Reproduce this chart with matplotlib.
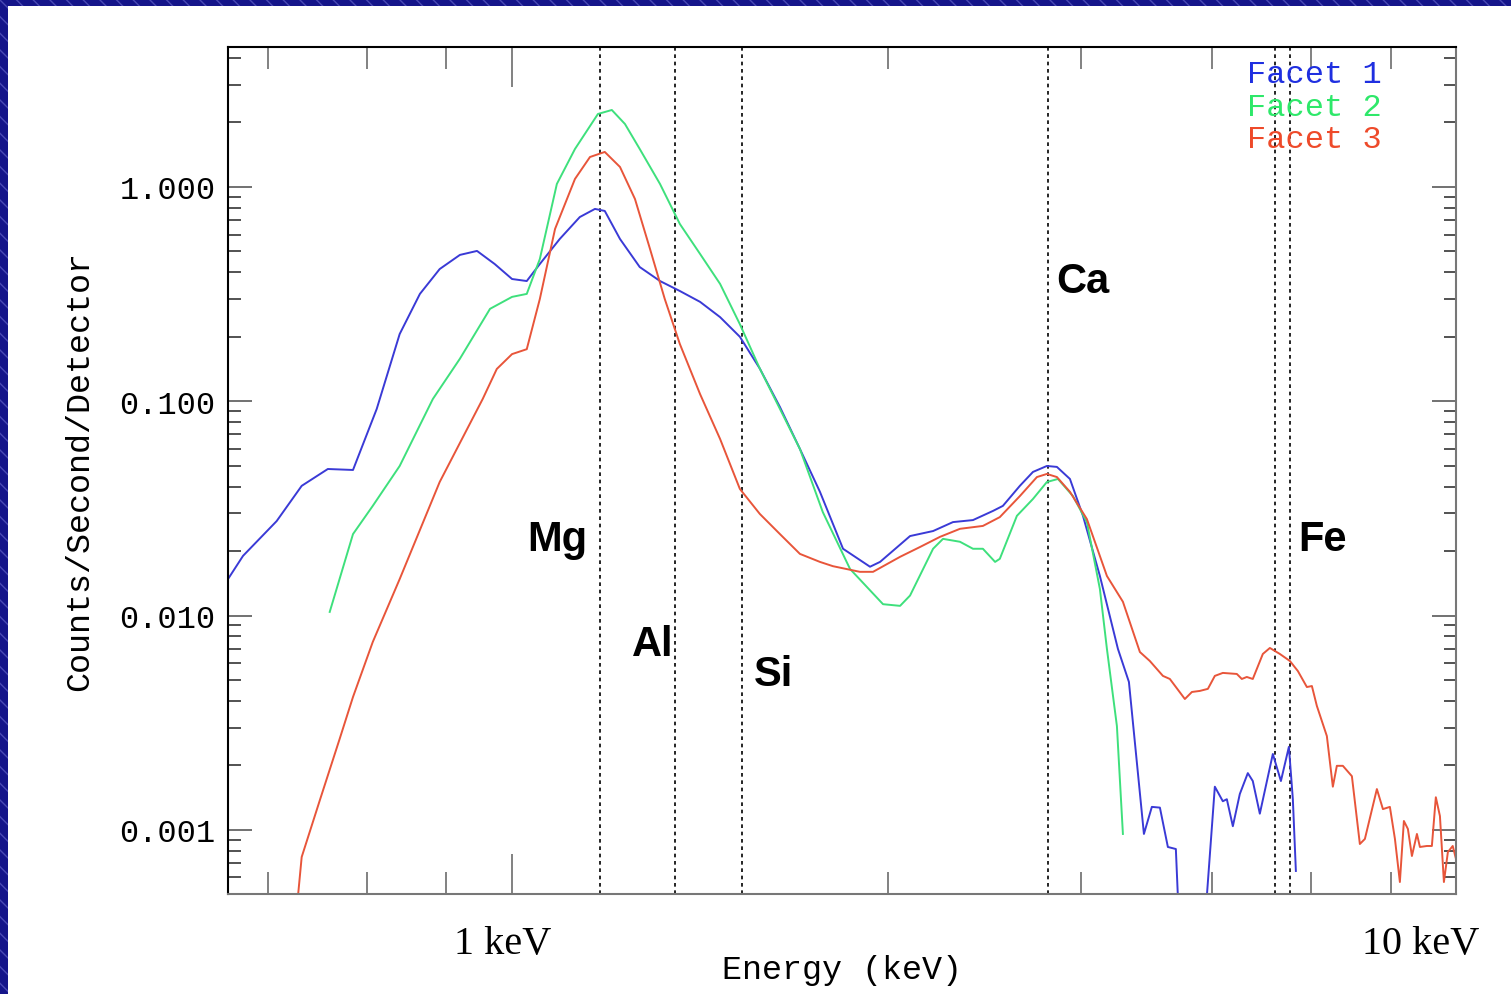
import numpy as np
import matplotlib
matplotlib.use("Agg")
import matplotlib.pyplot as plt
from matplotlib.patches import Rectangle
from matplotlib.ticker import FixedLocator, NullFormatter, FuncFormatter, LogLocator

# energy (keV) / counts per second per detector
f1_energy = [0.510, 0.529, 0.574, 0.610, 0.650, 0.691, 0.732, 0.774, 0.813, 0.853,
             0.896, 0.934, 0.975, 1.017, 1.054, 1.088, 1.142, 1.199, 1.244, 1.274,
             1.322, 1.387, 1.457, 1.529, 1.606, 1.686, 1.769, 1.857, 1.950, 2.047,
             2.149, 2.273, 2.427, 2.487, 2.675, 2.829, 2.969, 3.117, 3.273, 3.352,
             3.493, 3.606, 3.730, 3.822, 3.945, 4.072, 4.243, 4.433, 4.553, 4.722,
             4.814, 4.909, 5.005, 5.103, 5.128, 5.30, 5.45, 5.502, 5.610, 5.720,
             5.776, 5.861, 5.961, 6.078, 6.152, 6.258, 6.459, 6.587, 6.716, 6.781, 6.831]
f1_counts = [0.0148, 0.0190, 0.0276, 0.0403, 0.0483, 0.0478, 0.0921, 0.206, 0.317, 0.414,
             0.482, 0.503, 0.437, 0.372, 0.364, 0.437, 0.572, 0.724, 0.790, 0.773,
             0.572, 0.423, 0.364, 0.327, 0.291, 0.247, 0.200, 0.142, 0.0940, 0.0599,
             0.0378, 0.0205, 0.0169, 0.0178, 0.0235, 0.0248, 0.0273, 0.0279, 0.0308, 0.0325,
             0.0403, 0.0468, 0.0499, 0.0494, 0.0434, 0.0292, 0.0153, 0.00699, 0.00490, 0.000957,
             0.00128, 0.00127, 0.000832, 0.000814, 0.00049, 0.0001, 0.0001, 0.00049, 0.00159, 0.00136,
             0.00139, 0.00104, 0.00147, 0.00184, 0.00169, 0.00119, 0.00226, 0.00169, 0.00244, 0.00139, 0.000643]

f2_energy = [0.653, 0.691, 0.725, 0.774, 0.839, 0.896, 0.964, 1.017, 1.054, 1.088,
             1.134, 1.185, 1.253, 1.296, 1.338, 1.387, 1.457, 1.529, 1.606, 1.686,
             1.769, 1.857, 1.950, 2.047, 2.164, 2.312, 2.505, 2.611, 2.675, 2.829,
             2.898, 3.020, 3.117, 3.193, 3.289, 3.327, 3.468, 3.606, 3.730, 3.832,
             3.974, 4.111, 4.243, 4.316, 4.422, 4.487]
f2_counts = [0.0104, 0.0240, 0.0325, 0.0499, 0.1025, 0.158, 0.270, 0.307, 0.317, 0.461,
             1.033, 1.504, 2.191, 2.287, 1.968, 1.504, 1.033, 0.672, 0.487, 0.353,
             0.229, 0.142, 0.0921, 0.0599, 0.0304, 0.0165, 0.0113, 0.0111, 0.0124, 0.0205,
             0.0228, 0.0221, 0.0205, 0.0205, 0.0178, 0.0184, 0.0292, 0.0350, 0.0420, 0.0434,
             0.0361, 0.0273, 0.0133, 0.00699, 0.00305, 0.000957]

f3_energy = [0.6045, 0.610, 0.638, 0.669, 0.691, 0.725, 0.774, 0.853, 0.947, 0.980,
             1.017, 1.054, 1.088, 1.129, 1.185, 1.229, 1.274, 1.322, 1.371, 1.422,
             1.474, 1.529, 1.606, 1.686, 1.769, 1.857, 1.950, 2.047, 2.149, 2.218,
             2.368, 2.445, 2.611, 2.741, 2.877, 3.020, 3.193, 3.327, 3.493, 3.641,
             3.730, 3.822, 3.945, 4.111, 4.316, 4.487, 4.676, 4.790, 4.945, 5.029,
             5.216, 5.306, 5.409, 5.516, 5.610, 5.720, 5.918, 5.990, 6.063, 6.152,
             6.304, 6.413, 6.570, 6.732, 6.864, 7.016, 7.102, 7.188, 7.365, 7.473,
             7.546, 7.657, 7.827, 7.980, 8.078, 8.317, 8.440, 8.584, 8.690, 8.795,
             8.881, 8.968, 9.056, 9.167, 9.234, 9.391, 9.506, 9.598, 9.694, 9.788,
             9.883, 10.00, 10.08]
f3_counts = [0.00049, 0.000747, 0.00139, 0.00266, 0.00417, 0.00753, 0.0148, 0.0420, 0.1025, 0.1415,
             0.166, 0.175, 0.300, 0.637, 1.090, 1.380, 1.457, 1.240, 0.879, 0.514,
             0.300, 0.185, 0.108, 0.0667, 0.0390, 0.0298, 0.0240, 0.0194, 0.0178, 0.0170,
             0.0160, 0.0160, 0.0188, 0.0209, 0.0233, 0.0254, 0.0262, 0.0288, 0.0361, 0.0443,
             0.0458, 0.0443, 0.0378, 0.0282, 0.0153, 0.0116, 0.00676, 0.00614, 0.00523, 0.00506,
             0.00408, 0.00440, 0.00445, 0.00455, 0.00523, 0.00540, 0.00534, 0.00506, 0.00517, 0.00506,
             0.00662, 0.00706, 0.00662, 0.00614, 0.00551, 0.00464, 0.00469, 0.00379, 0.00274, 0.00159,
             0.00199, 0.00199, 0.00178, 0.000859, 0.000907, 0.00155, 0.00125, 0.00128, 0.000907, 0.000571,
             0.00110, 0.00101, 0.000755, 0.000957, 0.000832, 0.000841, 0.000841, 0.00142, 0.00116, 0.000571,
             0.000788, 0.000841, 0.000731]

# emission line markers (keV) and their labels
line_energy = [1.26, 1.51, 1.78, 3.74, 6.49, 6.73]
element_labels = ["Mg", "Al", "Si", "Ca", "Fe"]
element_pos = [(0.268, 0.419), (0.346, 0.295), (0.444, 0.260), (0.696, 0.724), (0.891, 0.419)]

# x ticks sit on detector channels: E = gain * (chan - offset)
chan_ticks = [7, 8, 9, 10, 20, 30, 40, 50, 60]
gain, offset = 0.1517, 3.292

facets = ["Facet 1", "Facet 2", "Facet 3"]
line_colors = ["#3a3ad6", "#3ee07c", "#e8553a"]
text_colors = ["#1f2fe0", "#2ee86a", "#ee4a2a"]

plt.rcParams["font.family"] = ["Liberation Mono", "DejaVu Sans Mono"]

fig = plt.figure(figsize=(15.11, 9.95), dpi=100)
fig.patch.set_facecolor("white")
# slide border (dark blue, striped)
fig.add_artist(Rectangle((0, 1 - 7 / 995), 1, 7 / 995, transform=fig.transFigure,
                         facecolor="#15158a", edgecolor="#4a4ab4", hatch="\\\\", lw=0))
fig.add_artist(Rectangle((0, 0), 8 / 1511, 1, transform=fig.transFigure,
                         facecolor="#15158a", edgecolor="#4a4ab4", hatch="\\\\", lw=0))

ax = fig.add_axes([228 / 1511, 100 / 995, 1228 / 1511, 847 / 995])
ax.set_xscale("log"); ax.set_yscale("log")

for e in line_energy:
    ax.axvline(e, color="black", lw=1.2, linestyle=(0, (2.2, 2.2)), zorder=1)

for en, ct, c in zip([f1_energy, f2_energy, f3_energy], [f1_counts, f2_counts, f3_counts], line_colors):
    ax.plot(en, ct, color=c, lw=1.4, zorder=2)

ax.set_xlim(0.51, 10.08)
ax.set_ylim(5.02e-4, 4.5)

tick_e = [gain * (c - offset) for c in chan_ticks]
ax.xaxis.set_major_locator(FixedLocator([tick_e[3]]))
ax.xaxis.set_minor_locator(FixedLocator(tick_e[:3] + tick_e[4:]))
ax.xaxis.set_major_formatter(NullFormatter())
ax.xaxis.set_minor_formatter(NullFormatter())
ax.yaxis.set_major_locator(FixedLocator([0.001, 0.01, 0.1, 1.0]))
ax.yaxis.set_minor_locator(LogLocator(base=10, subs=np.arange(2, 10)))
ax.yaxis.set_major_formatter(FuncFormatter(lambda v, p: f"{v:.3f}"))
ax.yaxis.set_minor_formatter(NullFormatter())

ax.tick_params(axis="x", which="major", direction="in", length=29, width=1.3, color="#777777",
               top=True, bottom=True)
ax.tick_params(axis="x", which="minor", direction="in", length=16, width=1.3, color="#777777",
               top=True, bottom=True)
ax.tick_params(axis="y", which="major", direction="in", length=17, width=1.3, color="#666666",
               left=True, right=True, labelsize=23, pad=9)
ax.tick_params(axis="y", which="minor", direction="in", length=9, width=1.3, color="#444444",
               left=True, right=True)
for s in ["left", "top"]:
    ax.spines[s].set_color("black")
for s in ["bottom", "right"]:
    ax.spines[s].set_color("#777777")
for s in ax.spines.values():
    s.set_linewidth(1.5)

ax.set_ylabel("Counts/Second/Detector", fontsize=24)
ax.yaxis.set_label_coords(-0.108, 0.5)
ax.set_xlabel("Energy (keV)", fontsize=24)
ax.xaxis.set_label_coords(0.5, -0.071)

ax.text(0.224, -0.059, "1 keV", transform=ax.transAxes, ha="center", va="center",
        fontsize=29, family="Liberation Serif", clip_on=False)
ax.text(0.971, -0.059, "10 keV", transform=ax.transAxes, ha="center", va="center",
        fontsize=29, family="Liberation Serif", clip_on=False)

for lab, (x, y) in zip(element_labels, element_pos):
    ax.text(x, y, lab, transform=ax.transAxes, ha="center", va="center",
            fontsize=30, fontweight="bold", family="Liberation Sans")

for i, (name, c) in enumerate(zip(facets, text_colors)):
    ax.text(0.8298, 0.968 - 0.0385 * i, name, transform=ax.transAxes, ha="left", va="center",
            fontsize=23, color=c)

fig.savefig("out.png", dpi=100)
